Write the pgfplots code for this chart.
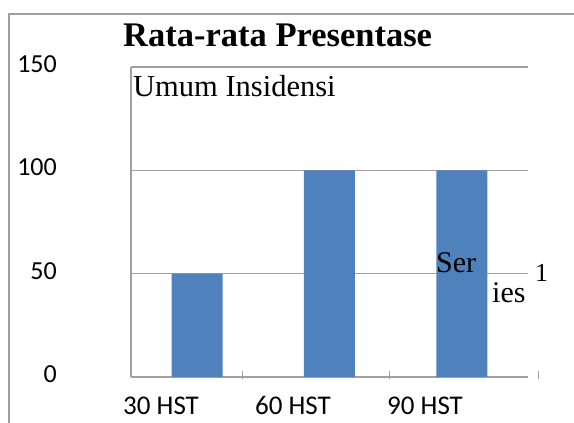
\documentclass[border=0pt]{standalone}
\usepackage{pgfplots}
\pgfplotsset{compat=1.18}
\usepackage{fontspec}
\setmainfont{Liberation Serif}
\newfontfamily\calibri{Carlito}
\definecolor{barblue}{HTML}{4F81BD}
\definecolor{gridgray}{HTML}{A0A0A0}
\begin{document}
\begin{tikzpicture}[x=1pt,y=1pt]
\path[use as bounding box] (0,0) rectangle (574,423);
\draw[gridgray, line width=1.2pt] (9,0) -- (9,409) -- (574,409);
\begin{axis}[
  at={(131pt,46pt)}, anchor=south west,
  scale only axis, width=397pt, height=310pt,
  xmin=-0.5, xmax=2.5, ymin=0, ymax=150,
  axis x line*=bottom, axis y line*=left,
  axis line style={gridgray, line width=1.2pt, -},
  ytick={0,50,100,150},
  ymajorgrids, grid style={gridgray, line width=1.2pt},
  xtick={-0.273,0.724,1.722},
  xticklabels={30 HST,60 HST,90 HST},
  major tick length=0pt,
  /pgf/number format/assume math mode=true,
  yticklabel style={font=\calibri\fontsize{26}{26}\selectfont, anchor=east, inner sep=0pt, xshift=-74pt, yshift=3pt},
  xticklabel style={font=\calibri\fontsize{27}{27}\selectfont, anchor=base, inner sep=0pt, yshift=-38pt},
  clip=false,
]
\addplot[ybar, bar width=51pt, fill=barblue, draw=none] coordinates {(0,50) (1,100) (2,100)};
\draw[gridgray, line width=1pt] (axis cs:0.339,0) ++(0pt,-2pt) -- ++(0pt,7.5pt);
\draw[gridgray, line width=1pt] (axis cs:1.457,0) ++(0pt,-2pt) -- ++(0pt,7.5pt);
\draw[gridgray, line width=1pt] (axis cs:2.583,0) ++(0pt,-2pt) -- ++(0pt,7.5pt);
\end{axis}
\node[anchor=base west, inner sep=0pt, font=\bfseries\fontsize{34.5}{34.5}\selectfont] at (123,376) {Rata-rata Presentase};
\node[anchor=base west, inner sep=0pt, font=\fontsize{30.5}{30.5}\selectfont] at (133,326) {Umum Insidensi};
\node[anchor=base west, inner sep=0pt, font=\fontsize{30}{30}\selectfont] at (436,150) {Ser};
\node[anchor=base west, inner sep=0pt, font=\fontsize{30}{30}\selectfont] at (492,120) {ies};
\node[anchor=base west, inner sep=0pt, font=\fontsize{26}{26}\selectfont] at (535,141) {1};
\end{tikzpicture}
\end{document}
